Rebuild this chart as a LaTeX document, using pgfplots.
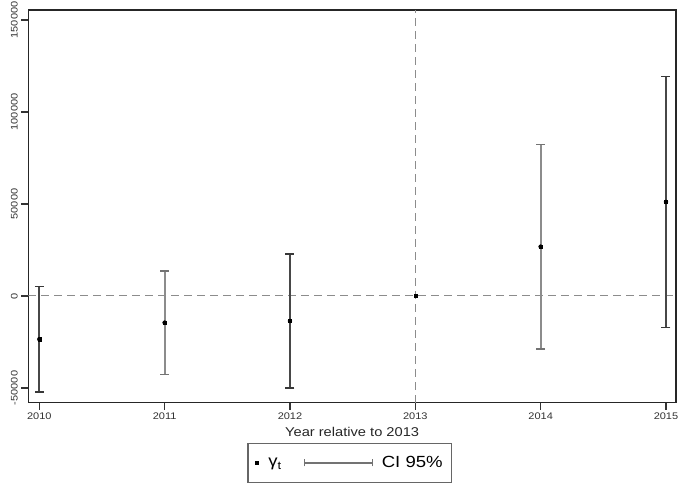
\documentclass[border=0pt]{standalone}
\usepackage{fontspec}
\setmainfont{Liberation Sans}[FakeStretch=1.15]
\usepackage{pgfplots}
\pgfplotsset{compat=1.18}
\usepackage{pgfplotstable}

\pgfplotstableread{
x y e
2010 -23500 28700
2012 -13600 36500
2015 51100 68100
}\darkci
\pgfplotstableread{
x y e
2011 -14500 28100
2014 26800 55600
}\grayci
\pgfplotstableread{
x y
2010 -23500
2011 -14500
2012 -13600
2013 0
2014 26800
2015 51100
}\pts

\begin{document}
\begin{tikzpicture}
\useasboundingbox (-28.3bp,-84.3bp) rectangle (656.7bp,402.7bp);
\begin{axis}[
  at={(0,0)}, anchor=south west,
  scale only axis, width=647.7bp, height=392.7bp,
  xmin=2009.912, xmax=2015.08, ymin=-58000, ymax=155400,
  xtick={2010,2011,2012,2013,2014,2015},
  ytick={-50000,0,50000,100000,150000},
  xtick pos=left, ytick pos=left,
  tick align=outside, major tick length=7bp,
  tick style={line width=1.2bp, black!80},
  axis line style={line width=1.5bp, black!85},
  /pgf/number format/fixed,
  /pgf/number format/assume math mode=true,
  /pgf/number format/1000 sep={},
  scaled y ticks=false, scaled x ticks=false,
  ticklabel style={font=\fontsize{9.6}{10}\selectfont, text=black!80},
  yticklabel style={rotate=90, anchor=south},
  xlabel={Year relative to 2013},
  xlabel style={font=\fontsize{12.8}{14}\selectfont, text=black!85},
  legend columns=2,
  legend style={at={(0.4965,-0.1026)}, anchor=north, draw=black!60, line width=1.2bp,
    font=\fontsize{16.2}{18}\selectfont, inner xsep=7bp, inner ysep=11bp,
    /tikz/every odd column/.append style={column sep=7bp},
    /tikz/every even column/.append style={column sep=20bp}},
]
\addplot[forget plot, black!45, line width=1bp, dash pattern=on 8bp off 5bp] coordinates {(2009.912,0) (2015.08,0)};
\addplot[forget plot, black!45, line width=1bp, dash pattern=on 8bp off 5bp] coordinates {(2013,-58000) (2013,155400)};
\addplot[forget plot, only marks, mark=none,
  error bars/.cd, y dir=both, y explicit, error mark=-,
  error bar style={draw=black!72, line width=1.7bp},
  error mark options={draw=black!78, line width=1.5bp, mark size=4.5bp, rotate=90}]
  table[x=x, y=y, y error=e]{\darkci};
\addplot[forget plot, only marks, mark=none,
  error bars/.cd, y dir=both, y explicit, error mark=-,
  error bar style={draw=black!45, line width=2bp},
  error mark options={draw=black!55, line width=1.5bp, mark size=4.5bp, rotate=90}]
  table[x=x, y=y, y error=e]{\grayci};
\addplot[forget plot, only marks, mark=square*, mark size=1.6bp, black] table[x=x, y=y]{\pts};
\addlegendimage{legend image code/.code={\fill[black] (-1.5bp,-1.5bp) rectangle (1.5bp,1.5bp);}}
\addlegendentry{γ\textsubscript{t}}
\addlegendimage{legend image code/.code={\draw[black!55, line width=1.2bp] (0bp,0bp) -- (68bp,0bp); \draw[black!55, line width=1.2bp] (0bp,-3.5bp) -- (0bp,3.5bp) (68bp,-3.5bp) -- (68bp,3.5bp);}}
\addlegendentry{CI 95\%}
\end{axis}
\end{tikzpicture}
\end{document}
